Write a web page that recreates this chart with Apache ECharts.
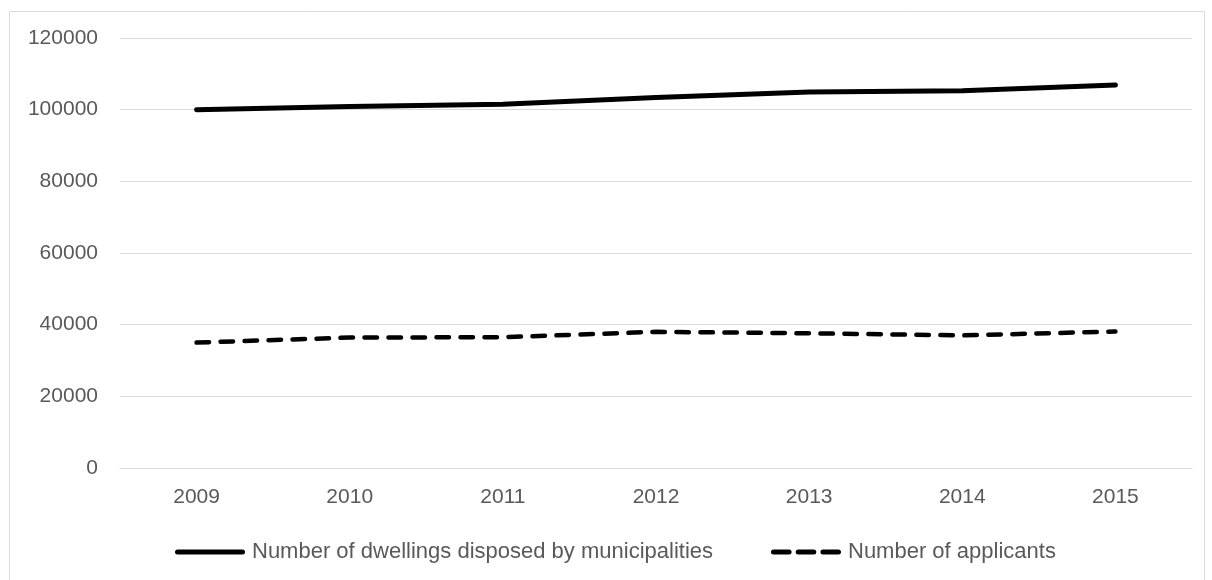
<!DOCTYPE html>
<html>
<head>
<meta charset="utf-8">
<script src="https://cdn.jsdelivr.net/npm/echarts@6/dist/echarts.min.js"></script>
<style>
html,body{margin:0;padding:0;background:#fff;}
#chart{width:1212px;height:580px;}
</style>
</head>
<body>
<div id="chart"></div>
<script>
const years = ['2009','2010','2011','2012','2013','2014','2015'];
const dwellings = [100000, 100900, 101500, 103400, 104900, 105300, 106900];
const applicants = [35000, 36400, 36500, 38000, 37600, 37000, 38100];
const seriesNames = ['Number of dwellings disposed by municipalities', 'Number of applicants'];

const textColor = '#595959';
const fontFamily = '"Liberation Sans", Arial, sans-serif';
const solidIcon = 'path://M2.5,0 L67.5,0 A2.5,2.5 0 0 1 67.5,5 L2.5,5 A2.5,2.5 0 0 1 2.5,0 Z';
const dashedIcon = 'path://M2.5,0 L17.5,0 A2.5,2.5 0 0 1 17.5,5 L2.5,5 A2.5,2.5 0 0 1 2.5,0 Z ' +
  'M26.5,0 L41.5,0 A2.5,2.5 0 0 1 41.5,5 L26.5,5 A2.5,2.5 0 0 1 26.5,0 Z ' +
  'M50.5,0 L65.5,0 A2.5,2.5 0 0 1 65.5,5 L50.5,5 A2.5,2.5 0 0 1 50.5,0 Z';

const chart = echarts.init(document.getElementById('chart'), null, {renderer: 'canvas'});
chart.setOption({
  backgroundColor: '#fff',
  animation: false,
  graphic: [{
    type: 'rect',
    shape: {x: 9.5, y: 11.5, width: 1195, height: 600},
    style: {fill: 'none', stroke: '#d9d9d9', lineWidth: 1},
    silent: true
  }],
  grid: {left: 120, right: 20, top: 38, bottom: 112, containLabel: false},
  legend: {
    left: 170,
    top: 536,
    itemWidth: 70,
    itemHeight: 5,
    itemGap: 58,
    symbolKeepAspect: false,
    itemStyle: {color: '#000', borderWidth: 0},
    textStyle: {color: textColor, fontSize: 22, fontFamily: fontFamily, padding: [0, 0, 0, 2]},
    data: [
      {name: seriesNames[0], icon: solidIcon},
      {name: seriesNames[1], icon: dashedIcon}
    ]
  },
  xAxis: {
    type: 'category',
    data: years,
    boundaryGap: true,
    axisLine: {lineStyle: {color: '#d9d9d9', width: 1}},
    axisTick: {show: false},
    axisLabel: {color: textColor, fontSize: 21, fontFamily: fontFamily, margin: 19}
  },
  yAxis: {
    type: 'value',
    min: 0,
    max: 120000,
    interval: 20000,
    axisLine: {show: false},
    axisTick: {show: false},
    axisLabel: {color: textColor, fontSize: 21, fontFamily: fontFamily, margin: 22, formatter: v => String(v)},
    splitLine: {lineStyle: {color: '#d9d9d9', width: 1}}
  },
  series: [
    {
      name: seriesNames[0],
      type: 'line',
      data: dwellings,
      symbol: 'none',
      color: '#000',
      lineStyle: {color: '#000', width: 5, cap: 'round', join: 'round'}
    },
    {
      name: seriesNames[1],
      type: 'line',
      data: applicants,
      symbol: 'none',
      color: '#000',
      lineStyle: {color: '#000', width: 4.5, type: [12.5, 11.5], cap: 'round', join: 'round'}
    }
  ]
});
</script>
</body>
</html>
